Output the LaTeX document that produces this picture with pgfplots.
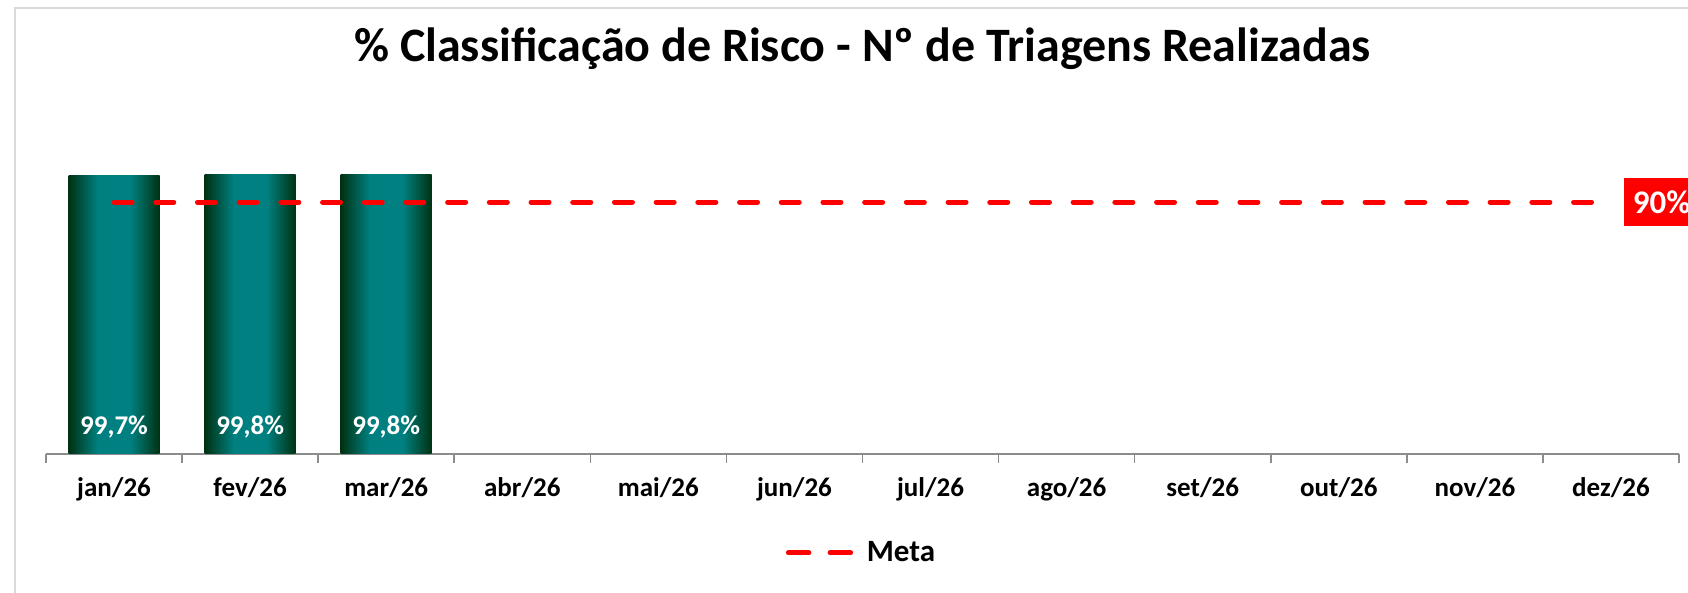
\documentclass[border=0pt]{standalone}
\usepackage{fontspec}
\setmainfont{Carlito}
\usepackage{pgfplots}
\pgfplotsset{compat=1.18}
\definecolor{barEdge}{RGB}{0,50,18}
\definecolor{barMid}{RGB}{0,128,128}
\definecolor{metaRed}{RGB}{255,0,0}
\definecolor{axisGray}{RGB}{140,140,140}
\definecolor{frameGray}{RGB}{217,217,217}
% dark edges, teal middle (path fills 25bp..75bp)
\pgfdeclarehorizontalshading{barshade}{100bp}{color(0bp)=(barEdge); color(25bp)=(barEdge);
    color(41bp)=(barMid); color(59bp)=(barMid); color(75bp)=(barEdge); color(100bp)=(barEdge)}

\begin{document}
\begin{tikzpicture}
% page = 1688 x 593 px at 0.5pt per px
\path[use as bounding box] (0,0) rectangle (844pt,296.5pt);
\draw[frameGray, line width=1pt] (7.5pt,292.5pt) rectangle (870pt,-20pt);
\begin{axis}[
    at={(23pt,69.5pt)}, anchor=south west,
    scale only axis, width=816.5pt, height=160.9pt,
    xmin=-0.5, xmax=11.5, ymin=0, ymax=115,
    axis x line=bottom, axis y line=none,
    x axis line style={-, draw=axisGray, line width=0.8pt},
    xtick={0,...,11},
    xticklabels={jan/26,fev/26,mar/26,abr/26,mai/26,jun/26,jul/26,ago/26,set/26,out/26,nov/26,dez/26},
    major tick length=0pt,
    minor xtick={-0.5,0.5,...,11.5},
    minor tick length=4.5pt,
    tick align=outside,
    minor tick style={draw=axisGray, line width=0.8pt},
    xticklabel style={font=\bfseries\fontsize{13.5}{15}\selectfont, anchor=base, yshift=-21.5pt},
    ytick=\empty,
    clip=false,
    title={\% Classificação de Risco - Nº de Triagens Realizadas},
    title style={font=\bfseries\fontsize{24}{27}\selectfont, at={(0.5,1.1832)}, anchor=base},
    legend style={draw=none, fill=none, at={(0.5,-0.307)}, anchor=center,
        font=\bfseries\fontsize{15.5}{17}\selectfont},
    legend image code/.code={\draw[#1] (1.25pt,0pt) -- (33pt,0pt); \path (0pt,0pt) -- (36pt,0pt);},
    % one bar per plot so that each bar gets its own shading
    barstyle/.style={forget plot, ybar, bar width=45.5pt, bar shift=0pt, draw=none,
        shade, shading=barshade,
        nodes near coords={\pgfmathprintnumber[fixed,fixed zerofill,precision=1,use comma,assume math mode=true]{\pgfplotspointmeta}\%},
        visualization depends on={y \as \rawy},
        every node near coord/.append style={font=\bfseries\fontsize{13.5}{15}\selectfont, text=white,
            anchor=base, shift={(axis direction cs:0,-\rawy)}, yshift=9.5pt}},
]
% % Classificação de Risco
\addplot[barstyle] coordinates {(0,99.7)};
\addplot[barstyle] coordinates {(1,99.8)};
\addplot[barstyle] coordinates {(2,99.8)};
% Meta
\addplot[metaRed, line width=2.5pt, line cap=round, dash pattern=on 9pt off 11.85pt, mark=none]
    coordinates {(0,90) (1,90) (2,90) (3,90) (4,90) (5,90) (6,90) (7,90) (8,90) (9,90) (10,90) (11,90)};
\addlegendentry{Meta}
% rótulo da meta
\addplot[forget plot, draw=none, mark=none,
    nodes near coords={\pgfmathprintnumber[assume math mode=true]{\pgfplotspointmeta}\%},
    every node near coord/.append style={anchor=west, xshift=6.25pt, fill=metaRed, text=white,
        font=\bfseries\fontsize{16.5}{18}\selectfont, minimum height=24pt, inner xsep=4.5pt}]
    coordinates {(11,90)};
\end{axis}
\end{tikzpicture}
\end{document}
